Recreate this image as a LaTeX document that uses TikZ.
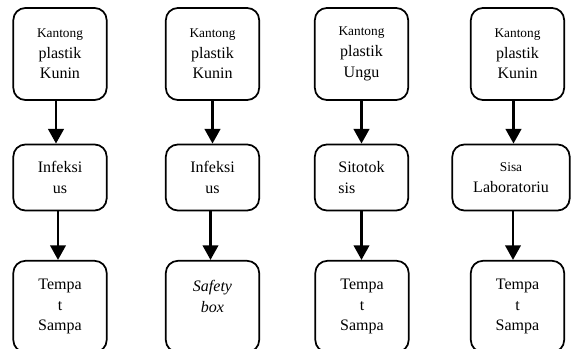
\documentclass[tikz,border=0pt]{standalone}
\usepackage{fontspec}
\setmainfont{Liberation Serif}
\usetikzlibrary{arrows.meta,positioning}
\newcommand{\smalltxt}[1]{{\fontsize{10}{15.5}\selectfont #1}}
\tikzset{
  bin/.style={draw,line width=1.3pt,rounded corners=9pt,minimum width=70pt,
    align=center,inner sep=2pt,font=\fontsize{12}{15.5}\selectfont},
  bag/.style={bin,minimum height=69pt},
  kind/.style={bin,minimum height=49.5pt},
  dump/.style={bin,minimum height=68.5pt},
  flow/.style={line width=2.2pt,-{Triangle[length=11pt,width=11.5pt]}},
}
\begin{document}
\begin{tikzpicture}[x=0.75pt,y=-0.75pt]
  \useasboundingbox (0,0) rectangle (572,349);
  \clip (0,0) rectangle (572,349);
  \node[bag] (bag1) at (60,54) {\smalltxt{Kantong}\\plastik\\Kunin};
  \node[bag] (bag2) at (212.5,54) {\smalltxt{Kantong}\\plastik\\Kunin};
  \node[bag] (bag3) at (361.5,54) {\smalltxt{Kantong}\\plastik\\Ungu};
  \node[bag] (bag4) at (517.5,54) {\smalltxt{Kantong}\\plastik\\Kunin};
  \node[kind] (kind1) at (60,177.5) {Infeksi\\us};
  \node[kind] (kind2) at (212.5,177.5) {Infeksi\\us};
  \node[kind,align=left] (kind3) at (361.5,177.5) {Sitotok\\sis};
  \node[kind,minimum width=88pt] (kind4) at (511,177.5) {\smalltxt{Sisa}\\Laboratoriu};
  \node[dump] (dump1) at (60,306.5) {Tempa\\t\\Sampa};
  \node[dump] (dump2) at (212.5,306.5) {\textit{Safety}\\\textit{box}\\\mbox{}};
  \node[dump] (dump3) at (362,306.5) {Tempa\\t\\Sampa};
  \node[dump] (dump4) at (517.5,306.5) {Tempa\\t\\Sampa};
  \draw[flow] ([xshift=-3pt]bag1.south) -- ([xshift=-3pt]bag1.south |- kind1.north);
  \draw[flow] (bag2.south) -- (kind2.north);
  \draw[flow] (bag3.south) -- (kind3.north);
  \draw[flow] ([xshift=-3pt]bag4.south) -- ([xshift=-3pt]bag4.south |- kind4.north);
  \draw[flow] ([xshift=-1.5pt]kind1.south) -- ([xshift=-1.5pt]kind1.south |- dump1.north);
  \draw[flow] ([xshift=-1.5pt]kind2.south) -- ([xshift=-1.5pt]kind2.south |- dump2.north);
  \draw[flow] (kind3.south) -- (kind3.south |- dump3.north);
  \draw[flow] ([xshift=1.5pt]kind4.south) -- ([xshift=1.5pt]kind4.south |- dump4.north);
\end{tikzpicture}
\end{document}
